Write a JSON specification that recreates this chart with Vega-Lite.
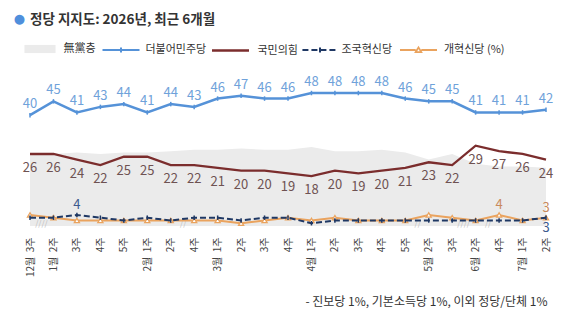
{
  "$schema": "https://vega.github.io/schema/vega-lite/v6.json",
  "width": 516,
  "height": 138.5,
  "autosize": {"type": "none"},
  "padding": {"left": 30, "top": 87.5, "right": 21, "bottom": 95},
  "background": "white",
  "config": {
    "view": {"stroke": null},
    "font": "Noto Sans CJK KR",
    "legend": {
      "orient": "none",
      "title": null,
      "padding": 0,
      "symbolSize": 1369,
      "symbolStrokeWidth": 2,
      "labelOffset": 5,
      "labelFont": "Noto Sans CJK KR",
      "labelFontSize": 11,
      "labelColor": "#333333",
      "labelOpacity": 1,
      "legendY": -57
    }
  },
  "title": {
    "text": "정당 지지도: 2026년, 최근 6개월",
    "anchor": "start",
    "frame": "group",
    "font": "Noto Sans CJK KR",
    "fontSize": 13.5,
    "fontWeight": "bold",
    "color": "#333333",
    "offset": 0,
    "dy": 14
  },
  "data": {
    "values": [
      {"w": "12월 3주", "p": "無黨층", "v": 25.5},
      {"w": "1월 2주", "p": "無黨층", "v": 26},
      {"w": "1월 3주", "p": "無黨층", "v": 26.5},
      {"w": "1월 4주", "p": "無黨층", "v": 26},
      {"w": "1월 5주", "p": "無黨층", "v": 26.5},
      {"w": "2월 1주", "p": "無黨층", "v": 26.5},
      {"w": "2월 2주", "p": "無黨층", "v": 27},
      {"w": "2월 4주", "p": "無黨층", "v": 27.5},
      {"w": "3월 1주", "p": "無黨층", "v": 27.5},
      {"w": "3월 2주", "p": "無黨층", "v": 28},
      {"w": "3월 3주", "p": "無黨층", "v": 27.5},
      {"w": "3월 4주", "p": "無黨층", "v": 27.5},
      {"w": "4월 1주", "p": "無黨층", "v": 28.5},
      {"w": "4월 2주", "p": "無黨층", "v": 27},
      {"w": "4월 3주", "p": "無黨층", "v": 27},
      {"w": "4월 4주", "p": "無黨층", "v": 27.5},
      {"w": "4월 5주", "p": "無黨층", "v": 26.5},
      {"w": "5월 2주", "p": "無黨층", "v": 24},
      {"w": "5월 3주", "p": "無黨층", "v": 26},
      {"w": "6월 2주", "p": "無黨층", "v": 22.5},
      {"w": "6월 4주", "p": "無黨층", "v": 21.5},
      {"w": "7월 1주", "p": "無黨층", "v": 21.5},
      {"w": "7월 2주", "p": "無黨층", "v": 21},

      {"w": "12월 3주", "p": "더불어민주당", "v": 40},
      {"w": "1월 2주", "p": "더불어민주당", "v": 45},
      {"w": "1월 3주", "p": "더불어민주당", "v": 41},
      {"w": "1월 4주", "p": "더불어민주당", "v": 43},
      {"w": "1월 5주", "p": "더불어민주당", "v": 44},
      {"w": "2월 1주", "p": "더불어민주당", "v": 41},
      {"w": "2월 2주", "p": "더불어민주당", "v": 44},
      {"w": "2월 4주", "p": "더불어민주당", "v": 43},
      {"w": "3월 1주", "p": "더불어민주당", "v": 46},
      {"w": "3월 2주", "p": "더불어민주당", "v": 47},
      {"w": "3월 3주", "p": "더불어민주당", "v": 46},
      {"w": "3월 4주", "p": "더불어민주당", "v": 46},
      {"w": "4월 1주", "p": "더불어민주당", "v": 48},
      {"w": "4월 2주", "p": "더불어민주당", "v": 48},
      {"w": "4월 3주", "p": "더불어민주당", "v": 48},
      {"w": "4월 4주", "p": "더불어민주당", "v": 48},
      {"w": "4월 5주", "p": "더불어민주당", "v": 46},
      {"w": "5월 2주", "p": "더불어민주당", "v": 45},
      {"w": "5월 3주", "p": "더불어민주당", "v": 45},
      {"w": "6월 2주", "p": "더불어민주당", "v": 41},
      {"w": "6월 4주", "p": "더불어민주당", "v": 41},
      {"w": "7월 1주", "p": "더불어민주당", "v": 41},
      {"w": "7월 2주", "p": "더불어민주당", "v": 42},

      {"w": "12월 3주", "p": "국민의힘", "v": 26},
      {"w": "1월 2주", "p": "국민의힘", "v": 26},
      {"w": "1월 3주", "p": "국민의힘", "v": 24},
      {"w": "1월 4주", "p": "국민의힘", "v": 22},
      {"w": "1월 5주", "p": "국민의힘", "v": 25},
      {"w": "2월 1주", "p": "국민의힘", "v": 25},
      {"w": "2월 2주", "p": "국민의힘", "v": 22},
      {"w": "2월 4주", "p": "국민의힘", "v": 22},
      {"w": "3월 1주", "p": "국민의힘", "v": 21},
      {"w": "3월 2주", "p": "국민의힘", "v": 20},
      {"w": "3월 3주", "p": "국민의힘", "v": 20},
      {"w": "3월 4주", "p": "국민의힘", "v": 19},
      {"w": "4월 1주", "p": "국민의힘", "v": 18},
      {"w": "4월 2주", "p": "국민의힘", "v": 20},
      {"w": "4월 3주", "p": "국민의힘", "v": 19},
      {"w": "4월 4주", "p": "국민의힘", "v": 20},
      {"w": "4월 5주", "p": "국민의힘", "v": 21},
      {"w": "5월 2주", "p": "국민의힘", "v": 23},
      {"w": "5월 3주", "p": "국민의힘", "v": 22},
      {"w": "6월 2주", "p": "국민의힘", "v": 29},
      {"w": "6월 4주", "p": "국민의힘", "v": 27},
      {"w": "7월 1주", "p": "국민의힘", "v": 26},
      {"w": "7월 2주", "p": "국민의힘", "v": 24},

      {"w": "12월 3주", "p": "조국혁신당", "v": 3},
      {"w": "1월 2주", "p": "조국혁신당", "v": 3},
      {"w": "1월 3주", "p": "조국혁신당", "v": 4},
      {"w": "1월 4주", "p": "조국혁신당", "v": 3},
      {"w": "1월 5주", "p": "조국혁신당", "v": 2},
      {"w": "2월 1주", "p": "조국혁신당", "v": 3},
      {"w": "2월 2주", "p": "조국혁신당", "v": 2},
      {"w": "2월 4주", "p": "조국혁신당", "v": 3},
      {"w": "3월 1주", "p": "조국혁신당", "v": 3},
      {"w": "3월 2주", "p": "조국혁신당", "v": 2},
      {"w": "3월 3주", "p": "조국혁신당", "v": 3},
      {"w": "3월 4주", "p": "조국혁신당", "v": 3},
      {"w": "4월 1주", "p": "조국혁신당", "v": 1},
      {"w": "4월 2주", "p": "조국혁신당", "v": 2},
      {"w": "4월 3주", "p": "조국혁신당", "v": 2},
      {"w": "4월 4주", "p": "조국혁신당", "v": 2},
      {"w": "4월 5주", "p": "조국혁신당", "v": 2},
      {"w": "5월 2주", "p": "조국혁신당", "v": 2},
      {"w": "5월 3주", "p": "조국혁신당", "v": 2},
      {"w": "6월 2주", "p": "조국혁신당", "v": 2},
      {"w": "6월 4주", "p": "조국혁신당", "v": 2},
      {"w": "7월 1주", "p": "조국혁신당", "v": 2},
      {"w": "7월 2주", "p": "조국혁신당", "v": 3},

      {"w": "12월 3주", "p": "개혁신당", "v": 4},
      {"w": "1월 2주", "p": "개혁신당", "v": 3},
      {"w": "1월 3주", "p": "개혁신당", "v": 2},
      {"w": "1월 4주", "p": "개혁신당", "v": 2},
      {"w": "1월 5주", "p": "개혁신당", "v": 2},
      {"w": "2월 1주", "p": "개혁신당", "v": 2},
      {"w": "2월 2주", "p": "개혁신당", "v": 2},
      {"w": "2월 4주", "p": "개혁신당", "v": 2},
      {"w": "3월 1주", "p": "개혁신당", "v": 2},
      {"w": "3월 2주", "p": "개혁신당", "v": 1},
      {"w": "3월 3주", "p": "개혁신당", "v": 2},
      {"w": "3월 4주", "p": "개혁신당", "v": 3},
      {"w": "4월 1주", "p": "개혁신당", "v": 2},
      {"w": "4월 2주", "p": "개혁신당", "v": 3},
      {"w": "4월 3주", "p": "개혁신당", "v": 2},
      {"w": "4월 4주", "p": "개혁신당", "v": 2},
      {"w": "4월 5주", "p": "개혁신당", "v": 2},
      {"w": "5월 2주", "p": "개혁신당", "v": 4},
      {"w": "5월 3주", "p": "개혁신당", "v": 3},
      {"w": "6월 2주", "p": "개혁신당", "v": 2},
      {"w": "6월 4주", "p": "개혁신당", "v": 4},
      {"w": "7월 1주", "p": "개혁신당", "v": 2},
      {"w": "7월 2주", "p": "개혁신당", "v": 3}
    ]
  },
  "encoding": {
    "x": {
      "field": "w",
      "type": "ordinal",
      "sort": ["12월 3주","1월 2주","1월 3주","1월 4주","1월 5주","2월 1주","2월 2주","2월 4주","3월 1주","3월 2주","3월 3주","3월 4주","4월 1주","4월 2주","4월 3주","4월 4주","4월 5주","5월 2주","5월 3주","6월 2주","6월 4주","7월 1주","7월 2주"],
      "scale": {"type": "point", "padding": 0},
      "axis": {
        "title": "- 진보당 1%, 기본소득당 1%, 이외 정당/단체 1%",
        "titleX": 517,
        "titleY": 75,
        "titleAlign": "right",
        "titleAnchor": "end",
        "titleBaseline": "middle",
        "titleFontWeight": "normal",
        "titleFontSize": 12,
        "titleColor": "#333333",
        "titleFont": "Noto Sans CJK KR",
        "labelAngle": -90,
        "labelAlign": "right",
        "labelBaseline": "middle",
        "labelFontSize": 10,
        "labelColor": "#444444",
        "labelFont": "Noto Sans CJK KR",
        "labelPadding": 11,
        "labelOverlap": false,
        "ticks": false,
        "domain": false,
        "grid": false,
        "labelExpr": "indexof(['12월 3주','1월 2주','2월 1주','3월 1주','4월 1주','5월 2주','6월 2주','7월 1주'], datum.value) >= 0 ? replace(datum.value, ' ', '\u00a0\u00a0') : split(datum.value, ' ')[1]"
      }
    },
    "y": {
      "field": "v",
      "type": "quantitative",
      "scale": {"domain": [0, 50], "nice": false},
      "axis": {
        "title": "●",
        "titleAngle": 0,
        "titleX": -11,
        "titleY": -69,
        "titleAlign": "center",
        "titleBaseline": "middle",
        "titleFont": "DejaVu Sans",
        "titleFontSize": 13,
        "titleColor": "#4f8fdc",
        "labels": false,
        "ticks": false,
        "domain": false,
        "grid": false
      }
    }
  },
  "layer": [
    {
      "transform": [{"filter": "datum.p == '無黨층'"}],
      "mark": {"type": "area", "opacity": 1, "interpolate": "linear"},
      "encoding": {
        "fill": {
          "field": "p",
          "type": "nominal",
          "scale": {"domain": ["無黨층"], "range": ["#ebebeb"]},
          "legend": {
            "legendX": -8.5,
            "symbolType": "M-0.84,-0.22H0.84V0.22H-0.84Z",
            "symbolStrokeColor": "transparent",
            "symbolStrokeWidth": 0
          }
        }
      }
    },
    {
      "transform": [{"filter": "datum.w == '1월 2주' || datum.w == '6월 2주'"}, {"filter": "datum.p == '無黨층'"}],
      "mark": {"type": "text", "text": "////", "fontSize": 8, "color": "#bdbdbd", "dx": -12, "dy": -2, "baseline": "middle"},
      "encoding": {"y": {"datum": 0}}
    },
    {
      "transform": [{"filter": "datum.w == '2월 4주' || datum.w == '5월 2주' || datum.w == '6월 4주'"}, {"filter": "datum.p == '無黨층'"}],
      "mark": {"type": "text", "text": "//", "fontSize": 8, "color": "#bdbdbd", "dx": -11, "dy": -2, "baseline": "middle"},
      "encoding": {"y": {"datum": 0}}
    },
    {
      "transform": [{"filter": "datum.p == '개혁신당'"}],
      "mark": {"type": "line", "strokeWidth": 2, "stroke": "#eaa35e", "color": "#eaa35e"},
      "encoding": {
        "opacity": {
          "field": "p",
          "type": "nominal",
          "scale": {"domain": ["개혁신당"], "range": [1, 1]},
          "legend": {
            "legendX": 369,
            "labelExpr": "datum.label + ' (%)'",
            "labelOffset": 6,
            "labelColor": "#333333",
            "symbolType": "M-1,0H-0.15M0.15,0H1M-0.15,0.11L0,-0.14L0.15,0.11Z",
            "symbolStrokeColor": "#eaa35e",
            "symbolFillColor": "#ffffff",
            "symbolStrokeWidth": 1.8
          }
        }
      }
    },
    {
      "transform": [{"filter": "datum.p == '개혁신당'"}],
      "mark": {"type": "point", "shape": "triangle-up", "size": 26, "filled": true, "fill": "#ffffff", "stroke": "#eaa35e", "strokeWidth": 1.3, "opacity": 1}
    },
    {
      "transform": [{"filter": "datum.p == '조국혁신당'"}],
      "mark": {"type": "line", "strokeWidth": 2, "stroke": "#1f3864", "color": "#1f3864"},
      "encoding": {
        "strokeDash": {
          "field": "p",
          "type": "nominal",
          "scale": {"domain": ["조국혁신당"], "range": [[6, 3]]},
          "legend": {
            "legendX": 270.5,
            "labelOffset": 2,
            "symbolType": "M-0.95,0H0.95M0,-0.13V0.13",
            "symbolStrokeColor": "#1f3864",
            "symbolStrokeWidth": 2
          }
        }
      }
    },
    {
      "transform": [{"filter": "datum.p == '조국혁신당'"}],
      "mark": {"type": "point", "shape": "M0,-1V1", "size": 20, "filled": false, "stroke": "#1f3864", "strokeWidth": 1.5, "opacity": 1}
    },
    {
      "transform": [{"filter": "datum.p == '국민의힘'"}],
      "mark": {"type": "line", "strokeWidth": 2.3},
      "encoding": {
        "color": {
          "field": "p",
          "type": "nominal",
          "scale": {"domain": ["국민의힘"], "range": ["#7b2d2d"]},
          "legend": {
            "legendX": 180.5,
            "labelOffset": 7,
            "symbolType": "M-1,0H1",
            "symbolStrokeWidth": 2.3
          }
        }
      }
    },
    {
      "transform": [{"filter": "datum.p == '더불어민주당'"}],
      "mark": {"type": "line", "strokeWidth": 2.5},
      "encoding": {
        "stroke": {
          "field": "p",
          "type": "nominal",
          "scale": {"domain": ["더불어민주당"], "range": ["#5592d8"]},
          "legend": {
            "legendX": 71.5,
            "symbolType": "M-1,0H1M0,-0.13V0.13",
            "symbolStrokeWidth": 2
          }
        }
      }
    },
    {
      "transform": [{"filter": "datum.p == '더불어민주당'"}],
      "mark": {"type": "point", "shape": "M0,-1V1", "size": 20, "filled": false, "stroke": "#5592d8", "strokeWidth": 1.5, "opacity": 1}
    },
    {
      "transform": [{"filter": "datum.p == '더불어민주당'"}],
      "mark": {"type": "text", "fontSize": 13, "color": "#6fa2da", "dy": -11, "baseline": "middle", "font": "Noto Sans CJK KR"},
      "encoding": {"text": {"field": "v", "type": "quantitative"}}
    },
    {
      "transform": [{"filter": "datum.p == '국민의힘'"}],
      "mark": {"type": "text", "fontSize": 13, "color": "#6e5252", "dy": 14, "baseline": "middle", "font": "Noto Sans CJK KR"},
      "encoding": {"text": {"field": "v", "type": "quantitative"}}
    },
    {
      "transform": [{"filter": "datum.p == '조국혁신당' && datum.w == '1월 3주'"}],
      "mark": {"type": "text", "fontSize": 13, "color": "#3d5a8e", "dy": -10, "baseline": "middle", "font": "Noto Sans CJK KR"},
      "encoding": {"text": {"field": "v", "type": "quantitative"}}
    },
    {
      "transform": [{"filter": "datum.p == '조국혁신당' && datum.w == '7월 2주'"}],
      "mark": {"type": "text", "fontSize": 13, "color": "#3d5a8e", "dy": 10, "baseline": "middle", "font": "Noto Sans CJK KR"},
      "encoding": {"text": {"field": "v", "type": "quantitative"}}
    },
    {
      "transform": [{"filter": "datum.p == '개혁신당' && (datum.w == '6월 4주' || datum.w == '7월 2주')"}],
      "mark": {"type": "text", "fontSize": 13, "color": "#c98a5c", "dy": -10, "baseline": "middle", "font": "Noto Sans CJK KR"},
      "encoding": {"text": {"field": "v", "type": "quantitative"}}
    }
  ]
}
